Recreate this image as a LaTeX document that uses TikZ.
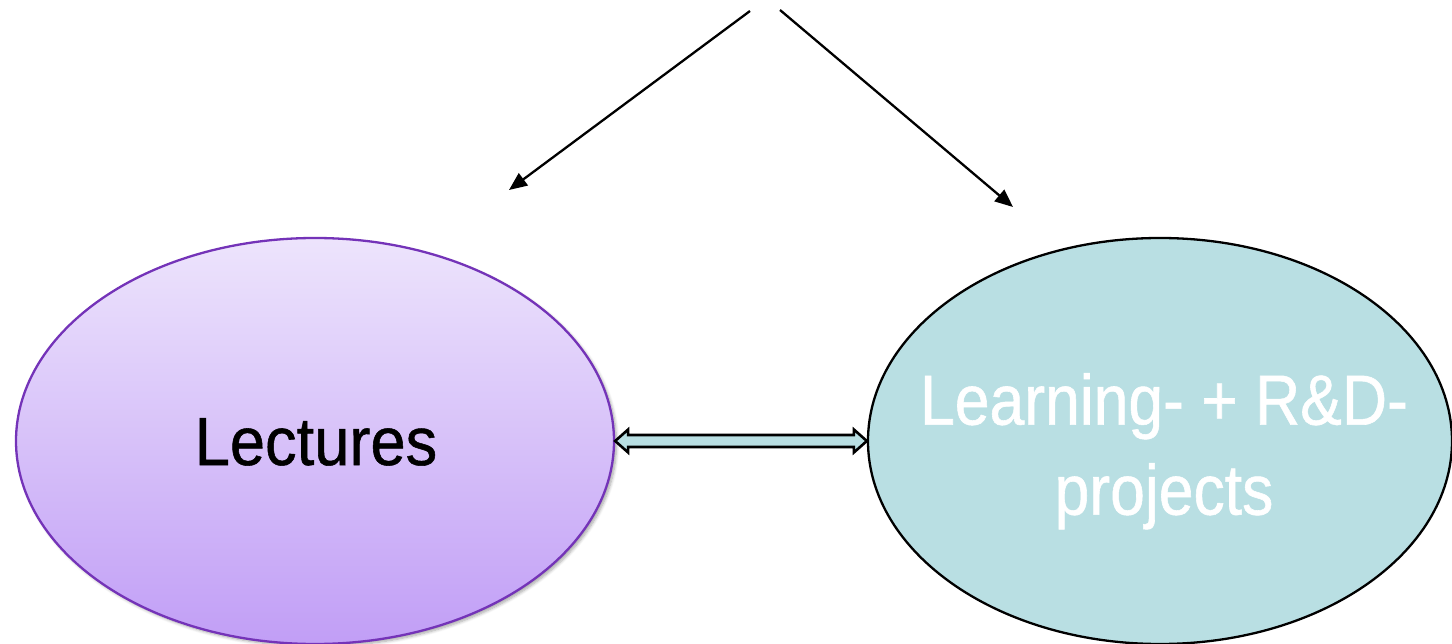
\documentclass[tikz,border=0pt]{standalone}
\usepackage{fontspec}
\setmainfont{Liberation Sans}
\newfontfamily\lecfont[FakeStretch=0.93,FakeBold=0.8]{Liberation Sans}
\newfontfamily\projfont[FakeStretch=0.88,FakeBold=0.8]{Liberation Sans}
\usetikzlibrary{shapes.geometric,arrows.meta,calc,shadows.blur}
\definecolor{lectop}{HTML}{EDE4FC}
\definecolor{lecbot}{HTML}{C19EF6}
\definecolor{lecline}{HTML}{7433B8}
\definecolor{projfill}{HTML}{B9DFE3}
\tikzset{
  lecbox/.style={ellipse, draw=lecline, line width=2.3pt, top color=lectop, bottom color=lecbot,
    minimum width=598pt, minimum height=406pt, inner sep=0pt,
    blur shadow={shadow blur steps=6, shadow xshift=2.5pt, shadow yshift=-2.5pt, shadow opacity=35, shadow blur radius=3pt}},
  projbox/.style={ellipse, draw=black, line width=2.3pt, fill=projfill,
    minimum width=584pt, minimum height=406pt, inner sep=0pt},
  lectext/.style={font=\lecfont\fontsize{68}{80}\selectfont, text=black},
  projtext/.style={font=\projfont\fontsize{71}{90}\selectfont, text=white, align=center, inner sep=0pt},
  topconn/.style={line width=2.3pt, -{Triangle[length=18pt,width=15pt]}},
  dblarrow/.style={draw=black, line width=2.6pt, fill=projfill, line join=miter}
}
\begin{document}
\begin{tikzpicture}[x=1pt,y=-1pt]
\useasboundingbox (0,0) rectangle (1452,644);
\node[lecbox] (lect) at (315,441) {};
\node[lectext, anchor=base] (lectlabel) at (316,465) {Lectures};
\node[projbox] (proj) at (1160,441) {};
\node[projtext, anchor=north] (projlabel) at (1164,373) {Learning- + R\&D-\\projects};
\coordinate (s1) at (750,11);
\coordinate (e1) at (509,190);
\coordinate (s2) at (780,10);
\coordinate (e2) at (1013,207);
\draw[topconn] (s1) -- (e1);
\draw[topconn] (s2) -- (e2);
\draw[dblarrow] (lect.east) -- ($(lect.east)+(13,-11.5)$) -- ($(lect.east)+(13,-6)$)
  -- ($(proj.west)+(-13,-6)$) -- ($(proj.west)+(-13,-11.5)$) -- (proj.west)
  -- ($(proj.west)+(-13,11.5)$) -- ($(proj.west)+(-13,6)$)
  -- ($(lect.east)+(13,6)$) -- ($(lect.east)+(13,11.5)$) -- cycle;
\end{tikzpicture}
\end{document}
